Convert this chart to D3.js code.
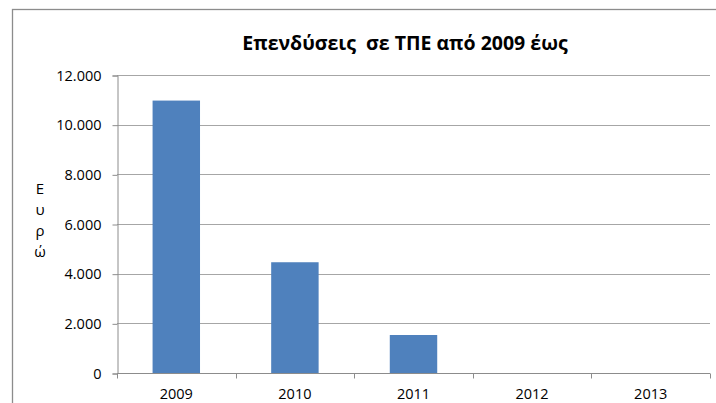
<!DOCTYPE html>
<html>
<head>
<meta charset="utf-8">
<script src="https://cdn.jsdelivr.net/npm/d3@7"></script>
<style>
  body { margin: 0; background: #fff; }
  text { font-family: "Open Sans", sans-serif; fill: #000; }
</style>
</head>
<body>
<div id="chart"></div>
<script>
// data
const years = ['2009', '2010', '2011', '2012', '2013'];
const values = [10970, 4460, 1530, 0, 0];
const yTicks = [0, 2000, 4000, 6000, 8000, 10000, 12000];
const titleText = 'Επενδύσεις  σε ΤΠΕ από 2009 έως';
const yLabel = ['Ε', 'υ', 'ρ', 'ώ'];

const width = 716;
const height = 403;
const margin = { top: 75, right: 6, bottom: 30, left: 117 };

const svg = d3.select('#chart')
  .append('svg')
  .attr('width', width)
  .attr('height', height);

// outer chart frame
svg.append('rect')
  .attr('x', 12.5)
  .attr('y', 9.5)
  .attr('width', width + 20)
  .attr('height', height + 20)
  .attr('fill', 'none')
  .attr('stroke', '#8c8c8c')
  .attr('stroke-width', 1.3);

const x = d3.scaleBand()
  .domain(years)
  .range([margin.left, width - margin.right])
  .paddingInner(0.6)
  .paddingOuter(0.3);

const y = d3.scaleLinear()
  .domain([0, 12000])
  .range([373, margin.top]);

const fmt = d => d3.format(',')(d).replace(/,/g, '.');

// gridlines
svg.append('g')
  .selectAll('line')
  .data(yTicks.slice(1))
  .enter().append('line')
  .attr('x1', margin.left)
  .attr('x2', width - margin.right)
  .attr('y1', d => Math.round(y(d)) + 0.5)
  .attr('y2', d => Math.round(y(d)) + 0.5)
  .attr('stroke', '#a6a6a6');

// y axis
const yAxis = svg.append('g')
  .attr('transform', 'translate(' + (margin.left + 0.5) + ',0.5)')
  .call(d3.axisLeft(y).tickValues(yTicks).tickFormat(fmt).tickSize(5).tickPadding(11));
yAxis.selectAll('line, path').attr('stroke', '#8c8c8c');
yAxis.selectAll('text').style('font-size', '14.5px').attr('fill', '#000');

// bars
svg.append('g')
  .selectAll('rect')
  .data(values)
  .enter().append('rect')
  .attr('x', (d, i) => x(years[i]))
  .attr('y', d => y(d))
  .attr('width', x.bandwidth())
  .attr('height', d => y(0) - y(d))
  .attr('fill', '#4f81bd');

// x axis with ticks between categories
const xAxis = svg.append('g')
  .attr('transform', 'translate(0,' + (Math.round(y(0)) + 0.5) + ')');
xAxis.append('line')
  .attr('x1', margin.left)
  .attr('x2', width - margin.right)
  .attr('stroke', '#8c8c8c');
const step = x.step();
xAxis.selectAll('line.tick')
  .data(d3.range(years.length + 1))
  .enter().append('line')
  .attr('class', 'tick')
  .attr('x1', i => Math.round(margin.left + i * step) + 0.5)
  .attr('x2', i => Math.round(margin.left + i * step) + 0.5)
  .attr('y1', 0)
  .attr('y2', 5)
  .attr('stroke', '#8c8c8c');
xAxis.selectAll('text')
  .data(years)
  .enter().append('text')
  .attr('x', d => x(d) + x.bandwidth() / 2)
  .attr('y', 25)
  .attr('text-anchor', 'middle')
  .style('font-size', '14.5px')
  .text(d => d);

// title (keeps the double space)
svg.append('text')
  .attr('x', 405)
  .attr('y', 50)
  .attr('text-anchor', 'middle')
  .style('font-size', '19.5px')
  .style('font-weight', 'bold')
  .style('white-space', 'pre')
  .attr('xml:space', 'preserve')
  .text(titleText);

// stacked y axis label
svg.append('g')
  .selectAll('text')
  .data(yLabel)
  .enter().append('text')
  .attr('x', 40)
  .attr('y', (d, i) => 194 + i * 21)
  .attr('text-anchor', 'middle')
  .style('font-size', '15px')
  .text(d => d);
</script>
</body>
</html>
